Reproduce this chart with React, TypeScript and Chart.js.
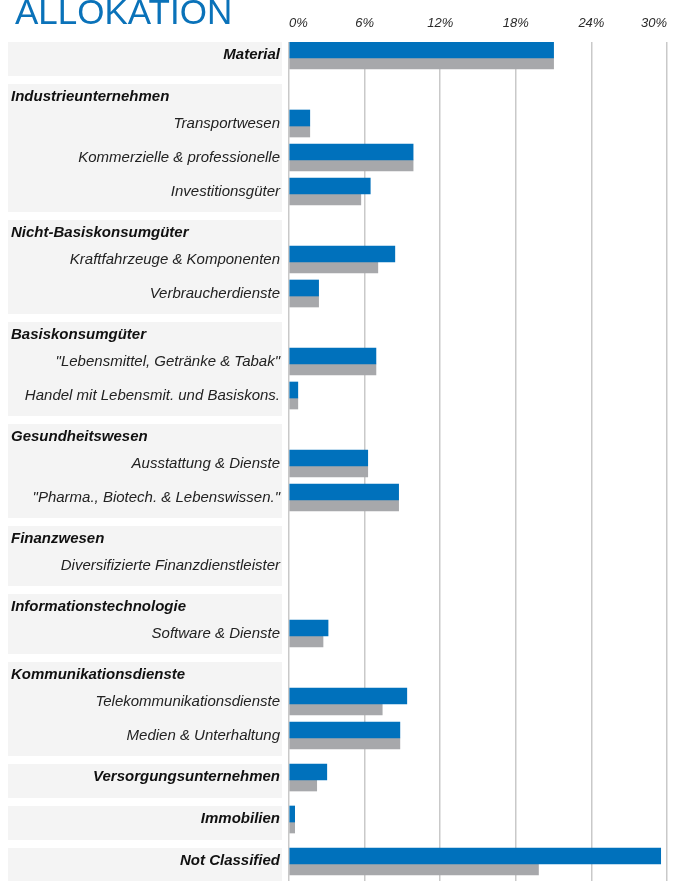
import React, { useEffect, useRef } from "react";
import { Chart, registerables } from "chart.js";

Chart.register(...registerables);

// ---------- data ----------
const TITLE = "ALLOKATION";

const rowLabels = [
  "Material",
  "Industrieunternehmen",
  "Transportwesen",
  "Kommerzielle & professionelle",
  "Investitionsgüter",
  "Nicht-Basiskonsumgüter",
  "Kraftfahrzeuge & Komponenten",
  "Verbraucherdienste",
  "Basiskonsumgüter",
  "\"Lebensmittel, Getränke & Tabak\"",
  "Handel mit Lebensmit. und Basiskons.",
  "Gesundheitswesen",
  "Ausstattung & Dienste",
  "\"Pharma., Biotech. & Lebenswissen.\"",
  "Finanzwesen",
  "Diversifizierte Finanzdienstleister",
  "Informationstechnologie",
  "Software & Dienste",
  "Kommunikationsdienste",
  "Telekommunikationsdienste",
  "Medien & Unterhaltung",
  "Versorgungsunternehmen",
  "Immobilien",
  "Not Classified",
];

// sector = stand-alone sector row, group = sector heading, sub = industry row
const rowKinds = [
  "sector",
  "group", "sub", "sub", "sub",
  "group", "sub", "sub",
  "group", "sub", "sub",
  "group", "sub", "sub",
  "group", "sub",
  "group", "sub",
  "group", "sub", "sub",
  "sector",
  "sector",
  "sector",
];

const fundValues = [
  21.0,
  null, 1.65, 9.85, 6.45,
  null, 8.4, 2.35,
  null, 6.9, 0.7,
  null, 6.25, 8.7,
  null, null,
  null, 3.1,
  null, 9.35, 8.8,
  3.0,
  0.45,
  29.5,
];

const benchmarkValues = [
  21.0,
  null, 1.65, 9.85, 5.7,
  null, 7.05, 2.35,
  null, 6.9, 0.7,
  null, 6.25, 8.7,
  null, null,
  null, 2.7,
  null, 7.4, 8.8,
  2.2,
  0.45,
  19.8,
];

const tickValues = [0, 6, 12, 18, 24, 30];

// ---------- styles / layout ----------
const W = 674;
const H = 881;
const ROW_H = 34;
const HEADER_H = 26;
const GAP = 8;
const FUND_T = 16;
const BENCH_T = 11;
const BLUE = "#0071bc";
const GREY = "#a7a8ab";
const PANEL = "#f4f4f4";
const FONT = '"Liberation Sans", Arial, Helvetica, sans-serif';

const layout = (() => {
  let pos = 0;
  const tops: number[] = [];
  const heights: number[] = [];
  rowKinds.forEach((k, i) => {
    if (i > 0 && k !== "sub") pos += GAP;
    tops.push(pos);
    const h = k === "group" ? HEADER_H : ROW_H;
    heights.push(h);
    pos += h;
  });
  return { tops, heights, total: pos };
})();

const toPoints = (vals: (number | null)[]) =>
  vals
    .map((v, i) => (v == null ? null : { x: v, y: layout.tops[i] + FUND_T }))
    .filter((p) => p !== null);

const panelPlugin = {
  id: "panelLabels",
  afterDraw(chart: any) {
    const ctx = chart.ctx as CanvasRenderingContext2D;
    const ys = chart.scales.y;
    const px = (v: number) => ys.getPixelForValue(v);
    ctx.save();

    // title
    ctx.fillStyle = "#0a72b9";
    ctx.font = `35px ${FONT}`;
    ctx.textAlign = "left";
    ctx.textBaseline = "alphabetic";
    ctx.fillText(TITLE, 15, 24);

    // panels
    ctx.fillStyle = PANEL;
    let i = 0;
    while (i < rowKinds.length) {
      let j = i;
      while (j + 1 < rowKinds.length && rowKinds[j + 1] === "sub") j++;
      const top = px(layout.tops[i]);
      const bottom = px(layout.tops[j] + layout.heights[j]);
      ctx.fillRect(8, top, 274, bottom - top);
      i = j + 1;
    }

    // labels
    rowLabels.forEach((label, k) => {
      const kind = rowKinds[k];
      const top = px(layout.tops[k]);
      if (kind === "group") {
        ctx.font = `italic bold 15px ${FONT}`;
        ctx.fillStyle = "#111";
        ctx.textAlign = "left";
        ctx.fillText(label, 11, top + 17);
      } else if (kind === "sector") {
        ctx.font = `italic bold 15px ${FONT}`;
        ctx.fillStyle = "#111";
        ctx.textAlign = "right";
        ctx.fillText(label, 280, top + 17.3);
      } else {
        ctx.font = `italic 15px ${FONT}`;
        ctx.fillStyle = "#222";
        ctx.textAlign = "right";
        ctx.fillText(label, 280, top + 17.5);
      }
    });
    ctx.restore();
  },
};

export default function App() {
  const ref = useRef<HTMLCanvasElement | null>(null);

  useEffect(() => {
    if (!ref.current) return;
    const chart = new Chart(ref.current, {
      type: "bar",
      data: {
        datasets: [
          {
            label: "Fonds",
            data: toPoints(fundValues) as any,
            backgroundColor: BLUE,
            borderWidth: 0,
            barThickness: FUND_T,
          },
          {
            label: "Benchmark",
            data: toPoints(benchmarkValues) as any,
            backgroundColor: GREY,
            borderWidth: 0,
            barThickness: BENCH_T,
          },
        ],
      },
      options: {
        indexAxis: "y",
        animation: false,
        responsive: false,
        devicePixelRatio: 1,
        layout: { padding: { left: 289, right: 7, top: 0, bottom: 0 } },
        plugins: {
          legend: { display: false },
          tooltip: { enabled: false },
          title: { display: false },
        },
        scales: {
          x: {
            type: "linear",
            position: "top",
            min: tickValues[0],
            max: tickValues[tickValues.length - 1],
            afterBuildTicks: (axis: any) => {
              axis.ticks = tickValues.map((v) => ({ value: v }));
            },
            afterFit: (axis: any) => {
              axis.height = 42;
              axis.paddingLeft = 0;
              axis.paddingRight = 0;
            },
            grid: {
              color: "#c9c9c9",
              lineWidth: 1.5,
              drawTicks: false,
            },
            border: { display: false },
            ticks: {
              align: "inner",
              padding: 11,
              color: "#2a2a2a",
              font: { family: FONT, size: 13, style: "italic" },
              callback: (v: any) => `${v}%`,
            },
          },
          y: {
            type: "linear",
            display: false,
            reverse: true,
            offset: false,
            min: 0,
            max: H - 42,
            grid: { display: false },
          },
        },
      },
      plugins: [panelPlugin],
    });
    return () => chart.destroy();
  }, []);

  return (
    <div style={{ position: "fixed", left: 0, top: 0, width: W, height: H, background: "#fff" }}>
      <canvas ref={ref} width={W} height={H} style={{ display: "block", width: W, height: H }} />
    </div>
  );
}
